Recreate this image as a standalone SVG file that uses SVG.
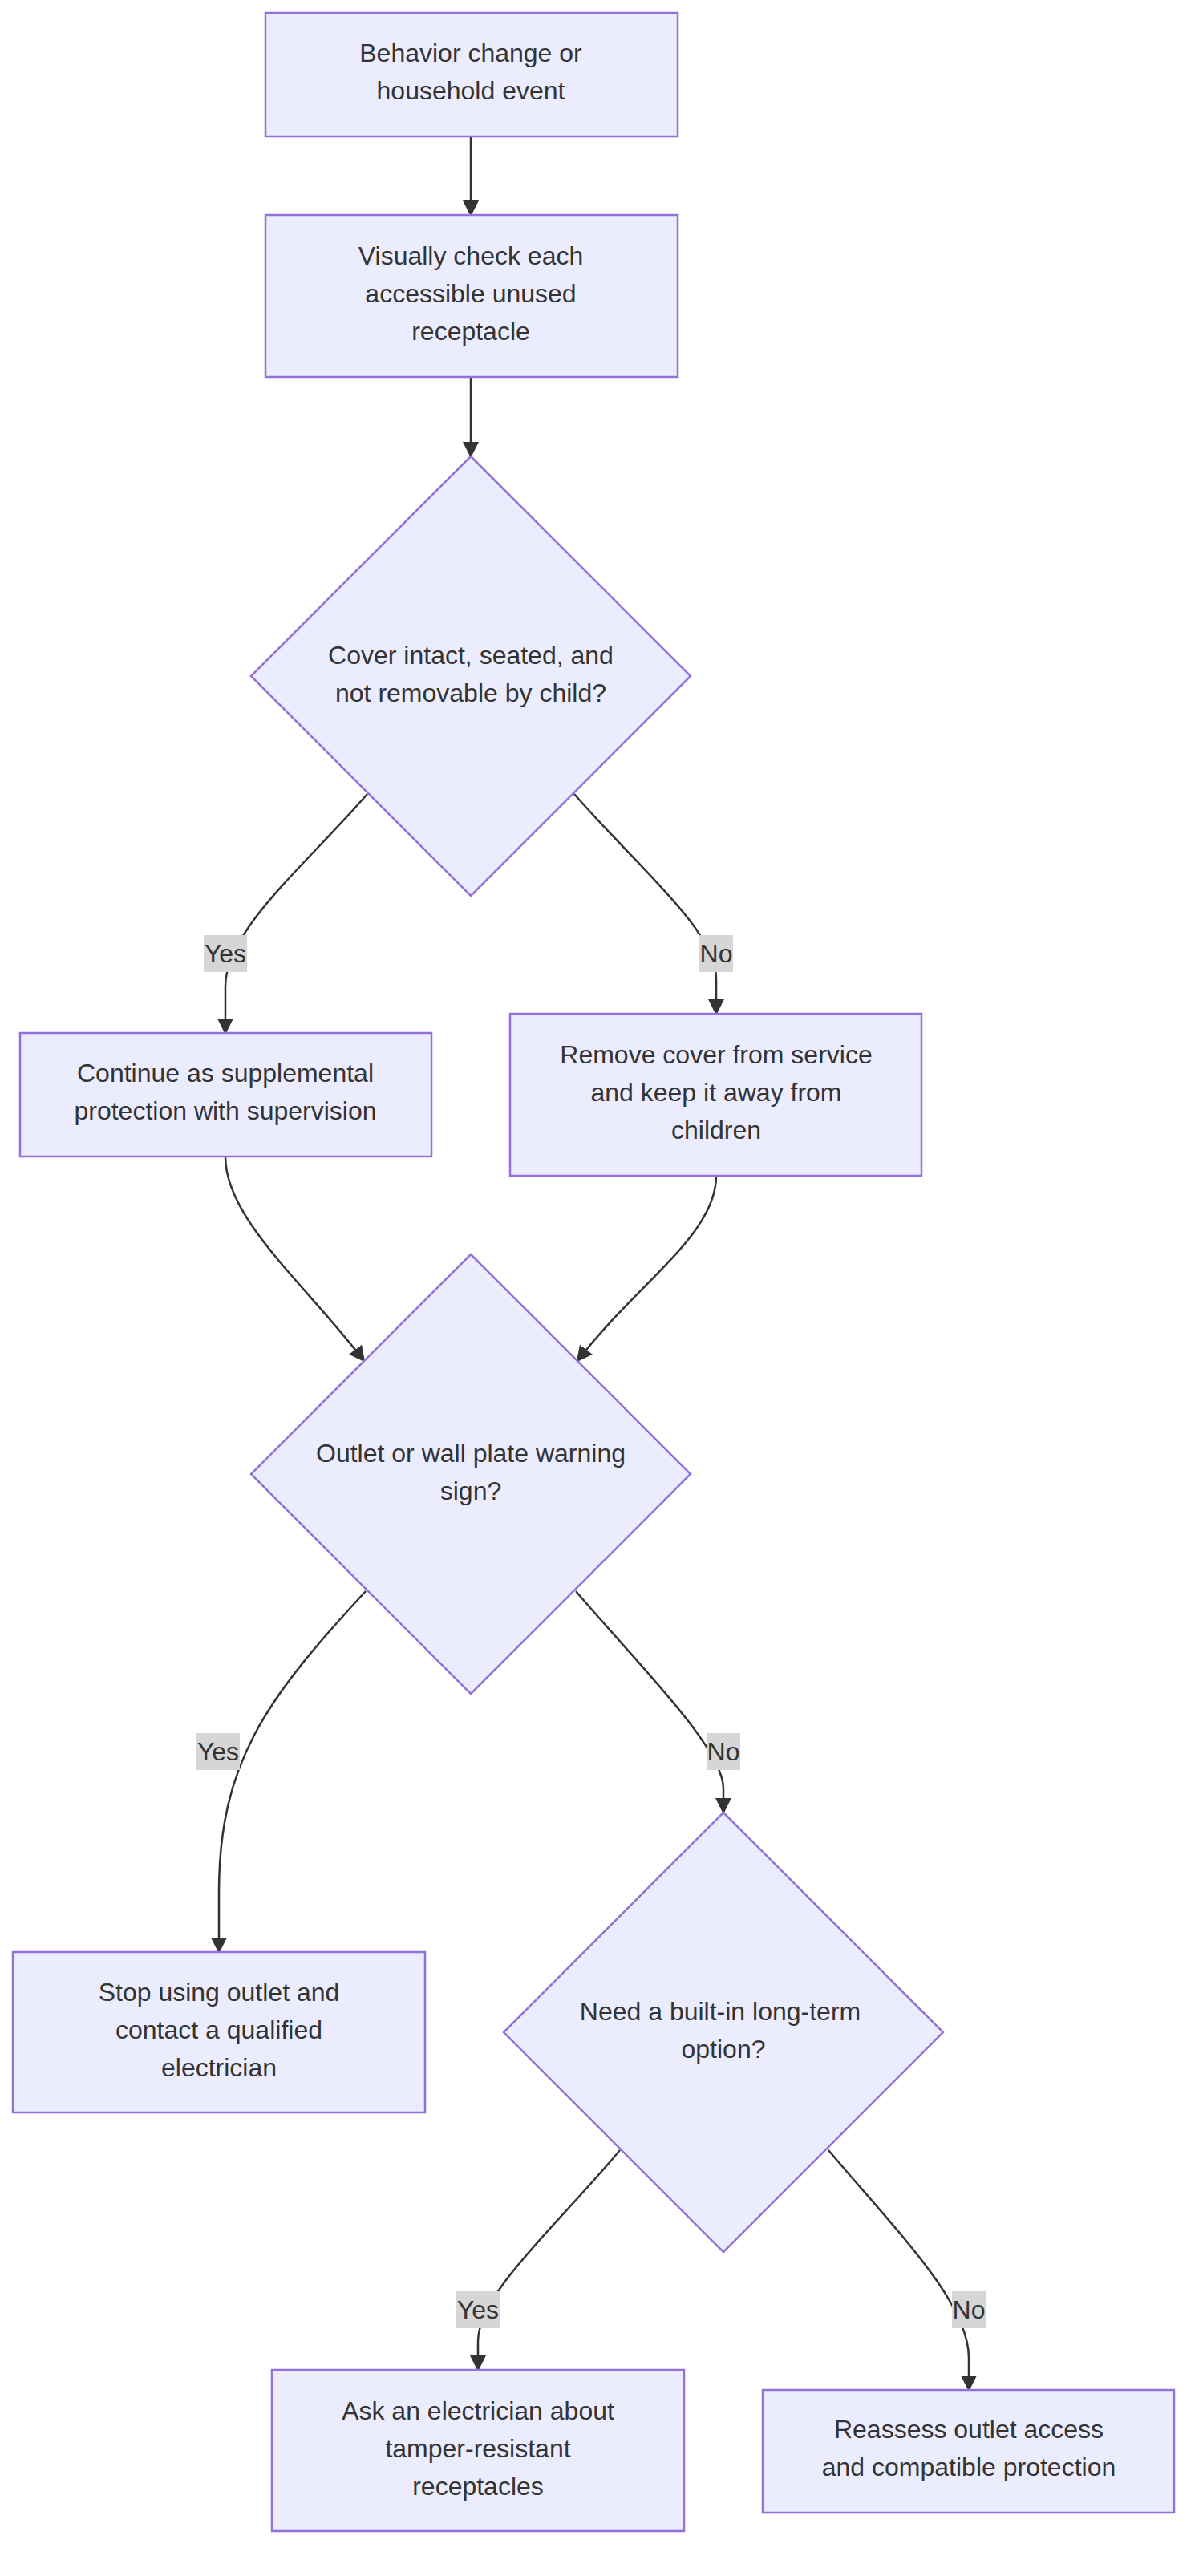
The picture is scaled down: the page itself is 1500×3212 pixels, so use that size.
<svg xmlns="http://www.w3.org/2000/svg" width="1500" height="3212" viewBox="0 0 1500 3212">
<style>
.n{fill:#ececff;stroke:#9370db;stroke-width:2.5}
.t{font-family:"Liberation Sans",Arial,sans-serif;font-size:32px;fill:#333;text-anchor:middle}
.e{fill:none;stroke:#333;stroke-width:2.5}
.lb{fill:#d6d6d6}
</style>
<defs><marker id="a" viewBox="0 0 10 10" refX="9" refY="5" markerWidth="8" markerHeight="8" markerUnits="userSpaceOnUse" orient="auto"><path d="M0,0L10,5L0,10z" fill="#333"/></marker>
<marker id="ar" viewBox="0 0 10 10" refX="9" refY="5" markerWidth="20" markerHeight="20" markerUnits="userSpaceOnUse" orient="auto"><path d="M0,0L10,5L0,10z" fill="#333"/></marker></defs>
<rect width="1500" height="3212" fill="#fff"/>
<g id="edges">
<path class="e" marker-end="url(#ar)" d="M587,170L587,268"/>
<path class="e" marker-end="url(#ar)" d="M587,470L587,569"/>
<path class="e" marker-end="url(#ar)" d="M458,990C380,1080 281,1160 281,1230L281,1288"/>
<path class="e" marker-end="url(#ar)" d="M716,990C794,1080 893,1160 893,1220L893,1264"/>
<path class="e" marker-end="url(#ar)" d="M281,1442C281,1520 380,1600 454,1697"/>
<path class="e" marker-end="url(#ar)" d="M893,1466C893,1540 794,1600 720,1697"/>
<path class="e" marker-end="url(#ar)" d="M456,1984C330,2120 273,2200 273,2360L273,2434"/>
<path class="e" marker-end="url(#ar)" d="M718,1984C800,2080 902,2180 902,2230L902,2260"/>
<path class="e" marker-end="url(#ar)" d="M773,2681C690,2780 596,2860 596,2920L596,2955"/>
<path class="e" marker-end="url(#ar)" d="M1033,2681C1116,2780 1208,2870 1208,2940L1208,2980"/>
<rect class="lb" x="254" y="1166" width="54" height="46"/><text class="t" x="281" y="1200">Yes</text>
<rect class="lb" x="872" y="1166" width="42" height="46"/><text class="t" x="893" y="1200">No</text>
<rect class="lb" x="245" y="2161" width="54" height="46"/><text class="t" x="272" y="2195">Yes</text>
<rect class="lb" x="881" y="2161" width="42" height="46"/><text class="t" x="902" y="2195">No</text>
<rect class="lb" x="569" y="2857" width="54" height="46"/><text class="t" x="596" y="2891">Yes</text>
<rect class="lb" x="1187" y="2857" width="42" height="46"/><text class="t" x="1208" y="2891">No</text>
</g>
<g id="n1"><rect class="n" x="331" y="16" width="514" height="154"/><text class="t" x="587" y="77">Behavior change or</text><text class="t" x="587" y="124">household event</text></g>
<g id="n2"><rect class="n" x="331" y="268" width="514" height="202"/><text class="t" x="587" y="330">Visually check each</text><text class="t" x="587" y="377">accessible unused</text><text class="t" x="587" y="424">receptacle</text></g>
<g id="d1"><polygon class="n" points="587,569 861,843 587,1117 313,843"/><text class="t" x="587" y="828">Cover intact, seated, and</text><text class="t" x="587" y="875">not removable by child?</text></g>
<g id="n3"><rect class="n" x="25" y="1288" width="513" height="154"/><text class="t" x="281" y="1349">Continue as supplemental</text><text class="t" x="281" y="1396">protection with supervision</text></g>
<g id="n4"><rect class="n" x="636" y="1264" width="513" height="202"/><text class="t" x="893" y="1326">Remove cover from service</text><text class="t" x="893" y="1373">and keep it away from</text><text class="t" x="893" y="1420">children</text></g>
<g id="d2"><polygon class="n" points="587,1564 861,1838 587,2112 313,1838"/><text class="t" x="587" y="1823">Outlet or wall plate warning</text><text class="t" x="587" y="1870">sign?</text></g>
<g id="n5"><rect class="n" x="16" y="2434" width="514" height="200"/><text class="t" x="273" y="2495">Stop using outlet and</text><text class="t" x="273" y="2542">contact a qualified</text><text class="t" x="273" y="2589">electrician</text></g>
<g id="d3"><polygon class="n" points="902,2260 1176,2534 902,2808 628,2534"/><text class="t" x="898" y="2519">Need a built-in long-term</text><text class="t" x="902" y="2566">option?</text></g>
<g id="n6"><rect class="n" x="339" y="2955" width="514" height="201"/><text class="t" x="596" y="3017">Ask an electrician about</text><text class="t" x="596" y="3064">tamper-resistant</text><text class="t" x="596" y="3111">receptacles</text></g>
<g id="n7"><rect class="n" x="951" y="2980" width="513" height="153"/><text class="t" x="1208" y="3040">Reassess outlet access</text><text class="t" x="1208" y="3087">and compatible protection</text></g>
</svg>
